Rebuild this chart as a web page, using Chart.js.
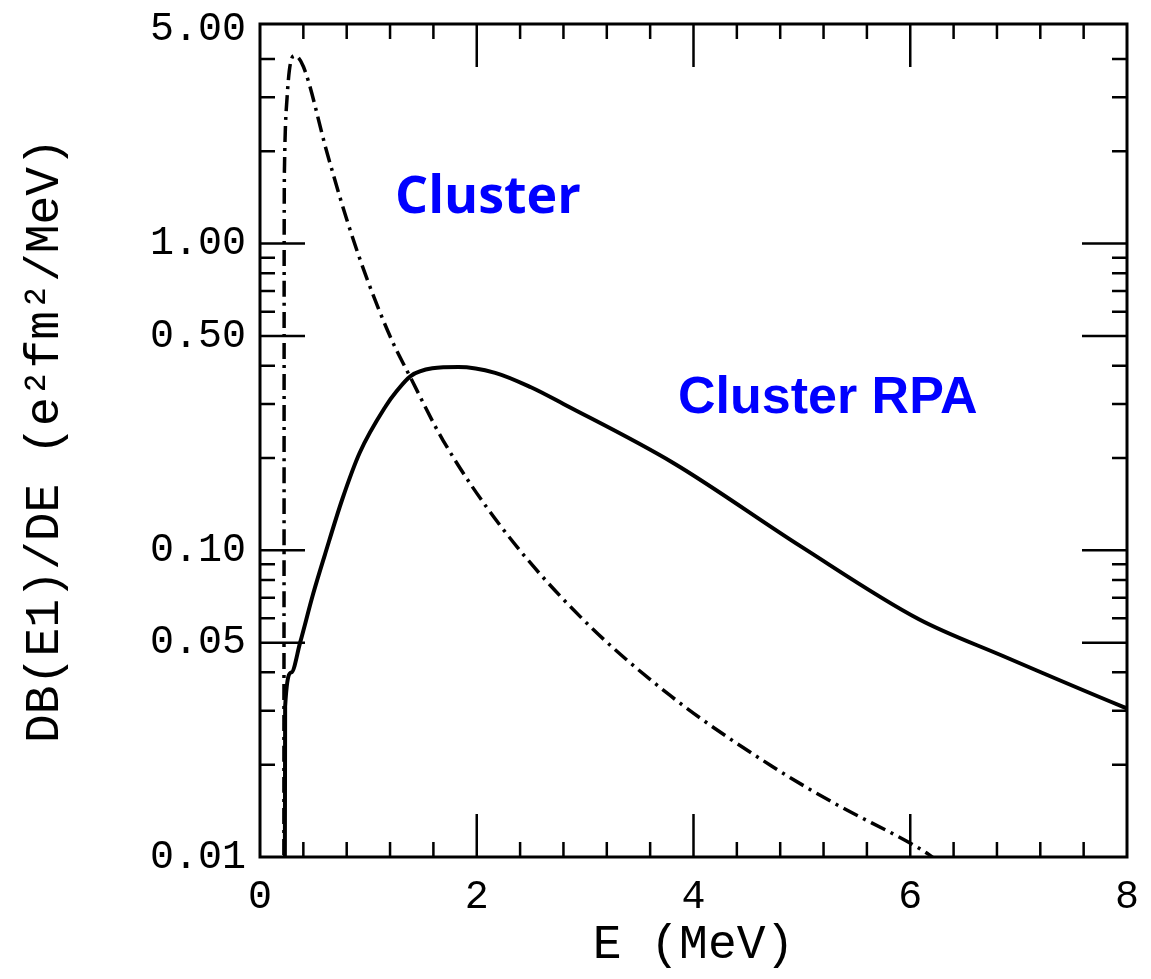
<!DOCTYPE html>
<html><head><meta charset="utf-8">
<script src="https://cdn.jsdelivr.net/npm/chart.js@4"></script>
<style>html,body{margin:0;padding:0;background:#fff;}</style>
</head><body>
<canvas id="c" width="1151" height="979"></canvas>
<script>
// Cluster (dash-dot curve)
const clusterX = [0.220, 0.221, 0.222, 0.223, 0.226, 0.25, 0.32, 0.40, 0.62, 0.80, 0.99, 1.21, 1.39, 1.69, 2.22, 2.95, 3.79, 4.72, 5.34, 5.96, 6.17, 6.30];
const clusterY = [0.004, 0.03, 0.10, 1.00, 1.78, 3.00, 4.10, 3.78, 1.97, 1.20, 0.763, 0.49, 0.365, 0.228, 0.12, 0.061, 0.0335, 0.0198, 0.0147, 0.0113, 0.0102, 0.0094];
// Cluster RPA (solid curve)
const rpaX = [0.228, 0.232, 0.29, 0.37, 0.49, 0.60, 0.76, 0.92, 1.16, 1.26, 1.39, 1.59, 1.83, 2.17, 2.50, 2.80, 3.81, 4.99, 6.08, 6.85, 7.97, 8.00];
const rpaY = [0.004, 0.031, 0.040, 0.050, 0.072, 0.097, 0.147, 0.208, 0.295, 0.330, 0.370, 0.392, 0.396, 0.379, 0.340, 0.300, 0.193, 0.103, 0.0596, 0.0453, 0.0308, 0.0305];

const xTickLabels = [0, 2, 4, 6, 8];
const xMinorTicks = [0.4, 0.8, 1.2, 1.6, 2.4, 2.8, 3.2, 3.6, 4.4, 4.8, 5.2, 5.6, 6.4, 6.8, 7.2, 7.6];
const yTickLabels = [0.01, 0.05, 0.10, 0.50, 1.00, 5.00];
const yMinorTicks = [0.02, 0.03, 0.04, 0.06, 0.07, 0.08, 0.09, 0.2, 0.3, 0.4, 0.6, 0.7, 0.8, 0.9, 2, 3, 4];

const MONO = '"Liberation Mono", "DejaVu Sans Mono", monospace';

const framePlugin = {
  id: 'frame',
  afterDatasetsDraw(chart) {
    const {ctx, chartArea: a, scales: {x, y}} = chart;
    ctx.save();
    ctx.strokeStyle = '#000';
    ctx.lineWidth = 3;
    ctx.strokeRect(a.left, a.top, a.right - a.left, a.bottom - a.top);
    ctx.lineWidth = 2.5;
    ctx.beginPath();
    const xt = (v, len) => {
      const px = x.getPixelForValue(v);
      ctx.moveTo(px, a.bottom); ctx.lineTo(px, a.bottom - len);
      ctx.moveTo(px, a.top); ctx.lineTo(px, a.top + len);
    };
    xTickLabels.forEach(v => { if (v > 0 && v < 8) xt(v, 43); });
    xMinorTicks.forEach(v => xt(v, 15));
    const yt = (v, len) => {
      const py = y.getPixelForValue(v);
      ctx.moveTo(a.left, py); ctx.lineTo(a.left + len, py);
      ctx.moveTo(a.right, py); ctx.lineTo(a.right - len, py);
    };
    yTickLabels.forEach(v => { if (v > 0.01 && v < 5) yt(v, 45); });
    yMinorTicks.forEach(v => yt(v, 15));
    ctx.stroke();
    ctx.restore();
  }
};

const notePlugin = {
  id: 'notes',
  afterDraw(chart) {
    const {ctx} = chart;
    ctx.save();
    ctx.fillStyle = '#0000FF';
    ctx.textBaseline = 'alphabetic';
    ctx.textAlign = 'left';
    ctx.font = 'bold 52px "Open Sans", "Noto Sans", sans-serif';
    ctx.fillText('Cluster', 395, 213);
    ctx.font = 'bold 52px "Liberation Sans", Arial, sans-serif';
    ctx.fillText('Cluster RPA', 678, 413);
    ctx.restore();
  }
};

new Chart(document.getElementById('c'), {
  type: 'line',
  data: {
    datasets: [
      {
        label: 'Cluster',
        data: clusterX.map((v, i) => ({x: v, y: clusterY[i]})),
        borderColor: '#000', borderWidth: 3.5, borderDash: [16, 6, 3, 6],
        pointRadius: 0, cubicInterpolationMode: 'monotone', fill: false
      },
      {
        label: 'Cluster RPA',
        data: rpaX.map((v, i) => ({x: v, y: rpaY[i]})),
        borderColor: '#000', borderWidth: 4,
        pointRadius: 0, cubicInterpolationMode: 'monotone', fill: false
      }
    ]
  },
  options: {
    responsive: false, animation: false, devicePixelRatio: 1,
    layout: {padding: {left: 0, right: 24, top: 24, bottom: 0}},
    plugins: {legend: {display: false}, tooltip: {enabled: false}},
    scales: {
      x: {
        type: 'linear', min: 0, max: 8,
        afterBuildTicks: s => { s.ticks = xTickLabels.map(v => ({value: v})); },
        afterFit: s => { s.height = 122; s.paddingLeft = 0; s.paddingRight = 0; },
        grid: {display: false, drawTicks: false},
        border: {display: false},
        ticks: {color: '#000', font: {family: MONO, size: 40}, padding: 16, maxRotation: 0, autoSkip: false, callback: v => String(v)},
        title: {display: true, text: 'E (MeV)', color: '#000', font: {family: MONO, size: 48}, padding: {top: 0, bottom: 5}}
      },
      y: {
        type: 'logarithmic', min: 0.01, max: 5.2,
        afterBuildTicks: s => { s.ticks = yTickLabels.map(v => ({value: v})); },
        afterFit: s => { s.width = 260; s.paddingTop = 0; s.paddingBottom = 0; },
        grid: {display: false, drawTicks: false},
        border: {display: false},
        ticks: {color: '#000', font: {family: MONO, size: 40}, padding: 14, autoSkip: false, callback: v => Number(v).toFixed(2)},
        title: {display: true, text: 'DB(E1)/DE (e²fm²/MeV)', color: '#000', font: {family: MONO, size: 48}, padding: {top: 16, bottom: 0}}
      }
    }
  },
  plugins: [framePlugin, notePlugin]
});
</script>
</body></html>
